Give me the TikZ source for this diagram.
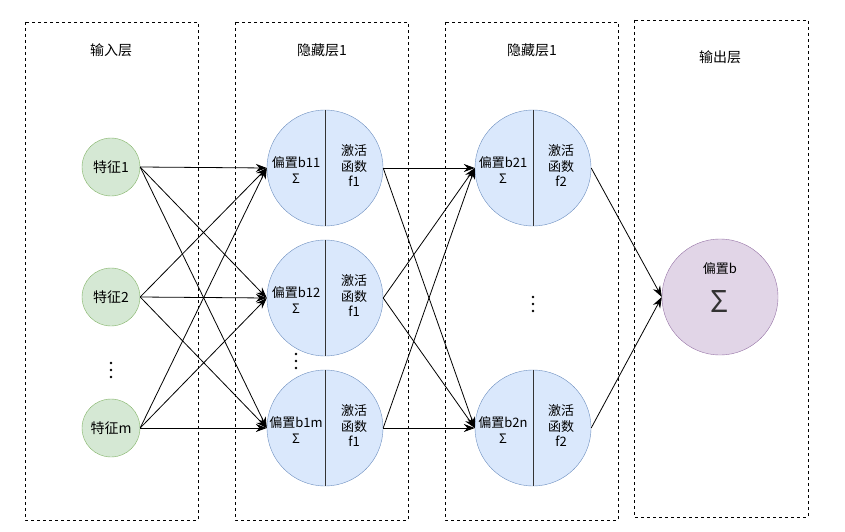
\documentclass[tikz,border=0pt]{standalone}
\usepackage{fontspec}
\setmainfont{Noto Sans CJK SC}
\usetikzlibrary{arrows.meta}
\definecolor{gf}{HTML}{D5E8D4}\definecolor{gs}{HTML}{82B366}
\definecolor{bf}{HTML}{DAE8FC}\definecolor{bs}{HTML}{6C8EBF}
\definecolor{pf}{HTML}{E1D5E7}\definecolor{ps}{HTML}{9673A6}
\begin{document}
\begin{tikzpicture}[x=1pt,y=-1pt,
 layer/.style={draw,dashed,line width=0.8pt},
 inp/.style={circle,draw=gs,fill=gf,minimum size=58pt,inner sep=0pt,font=\fontsize{14}{16}\selectfont},
 hid/.style={circle,draw=bs,fill=bf,minimum size=116pt,inner sep=0pt},
 txt/.style={font=\fontsize{13}{15.5}\selectfont,align=center,inner sep=0pt},
 ttl/.style={font=\fontsize{14}{16}\selectfont},
 arr/.style={-{Stealth[length=11pt,width=8pt]},line width=0.8pt},
 dotsty/.style={circle,fill=black,inner sep=0pt,minimum size=2.6pt}]
\useasboundingbox (0,0) rectangle (845,532);
\draw[layer] (25,22) rectangle (198,520);
\draw[layer] (235,22) rectangle (408,520);
\draw[layer] (445,22) rectangle (618,520);
\draw[layer] (634,20) rectangle (808,517);
\node[ttl] (t1) at (111,50) {输入层};
\node[ttl] (t2) at (322,50) {隐藏层1};
\node[ttl] (t3) at (532,50) {隐藏层1};
\node[ttl] (t4) at (720,57) {输出层};
\node[inp] (i1) at (111,167) {特征1};
\node[inp] (i2) at (111,297) {特征2};
\node[inp] (i3) at (111,428) {特征m};
\foreach \x/\y in {111/370,296/361,533/304}{
 \node[dotsty] at (\x,\y-7) {};\node[dotsty] at (\x,\y) {};\node[dotsty] at (\x,\y+7) {};}
\foreach \n/\y/\b in {1/168/b11,2/298/b12,3/428/b1m}{
 \node[hid] (h\n) at (325,\y) {};
 \draw[line width=1pt,black!80] (h\n.north) -- (h\n.south);
 \node[txt] (hl\n) at (296,\y+2) {偏置\b\\Σ};
 \node[txt] (hr\n) at (354,\y-2) {激活\\函数\\f1};
}
\foreach \n/\y/\b in {1/168/b21,2/428/b2n}{
 \node[hid] (k\n) at (533,\y) {};
 \draw[line width=1pt,black!80] (k\n.north) -- (k\n.south);
 \node[txt] (kl\n) at (503,\y+2) {偏置\b\\Σ};
 \node[txt] (kr\n) at (561,\y-2) {激活\\函数\\f2};
}
\node[hid,draw=ps,fill=pf] (o) at (720,297) {};
\node[txt] (ot) at (720,269) {偏置b};
\node[font=\fontsize{30}{30}\selectfont,text=black!80] (os) at (720,302) {Σ};
\foreach \i in {1,2,3}\foreach \h in {1,2,3}\draw[arr] (i\i.east) -- (h\h.west);
\foreach \h in {1,2,3}\foreach \k in {1,2}\draw[arr] (h\h.east) -- (k\k.west);
\foreach \k in {1,2}\draw[arr] (k\k.east) -- (o.west);
\end{tikzpicture}
\end{document}
